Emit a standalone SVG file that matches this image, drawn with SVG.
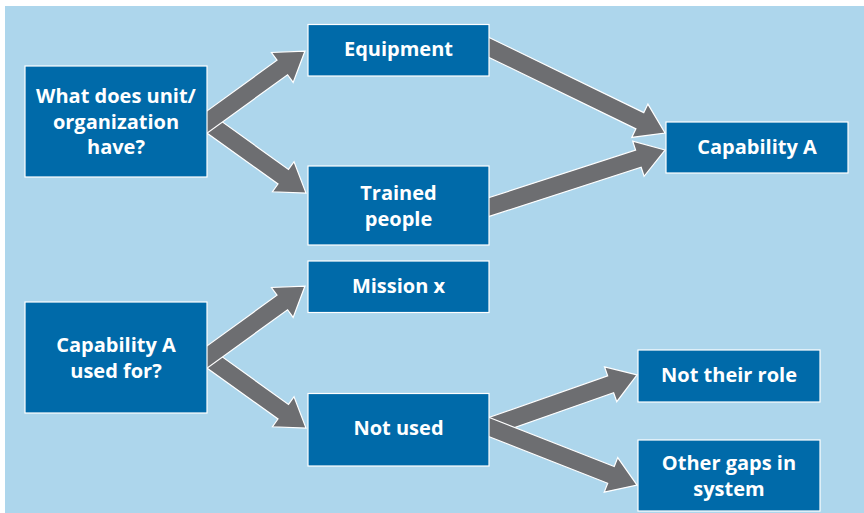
<svg xmlns="http://www.w3.org/2000/svg" width="864" height="513" viewBox="0 0 864 513">
<style>
.bg{fill:#add6ec}
.box{fill:#006aa9;stroke:#ffffff;stroke-width:1.2}
.arr{fill:#6d6e71;stroke:#ffffff;stroke-width:1.2;stroke-linejoin:miter}
.t{font-family:"Open Sans","Liberation Sans",sans-serif;font-weight:bold;font-size:20px;fill:#ffffff;text-anchor:middle}
</style>
<rect class="bg" x="5" y="6" width="859" height="507"/>
<g id="connectors">
<path class="arr" d="M0,-9 H103.8 V-18.5 L131.8,0 L103.8,18.5 V9 H0 Z" transform="translate(198.9,116.2) rotate(35.65)"/>
<path class="arr" d="M0,-9 H103 V-18.5 L131,0 L103,18.5 V9 H0 Z" transform="translate(198.9,127.9) rotate(-35.93)"/>
<path class="arr" d="M0,-9 H177.7 V-18.5 L205.7,0 L177.7,18.5 V9 H0 Z" transform="translate(480,43.1) rotate(25.91)"/>
<path class="arr" d="M0,-9 H167 V-18.5 L195,0 L167,18.5 V9 H0 Z" transform="translate(479.5,210.1) rotate(-17.94)"/>
<path class="arr" d="M0,-9 H103.8 V-18.5 L131.8,0 L103.8,18.5 V9 H0 Z" transform="translate(198.9,351.2) rotate(35.65)"/>
<path class="arr" d="M0,-9 H103 V-18.5 L131,0 L103,18.5 V9 H0 Z" transform="translate(198.9,362.9) rotate(-35.93)"/>
<path class="arr" d="M0,-9 H138.9 V-18.5 L166.9,0 L138.9,18.5 V9 H0 Z" transform="translate(479.6,430.3) rotate(-19.36)"/>
<path class="arr" d="M0,-9 H141 V-18.5 L169,0 L141,18.5 V9 H0 Z" transform="translate(479.7,423.4) rotate(21.4)"/>
</g>
<g id="have">
<rect class="box" x="25" y="66" width="182" height="111"/>
<text class="t" x="116" y="103">What does unit/</text>
<text class="t" x="116" y="128.5">organization</text>
<text class="t" x="116" y="154">have?</text>
</g>
<g id="equipment">
<rect class="box" x="308" y="24.5" width="181" height="51.5"/>
<text class="t" x="398.5" y="56">Equipment</text>
</g>
<g id="trained">
<rect class="box" x="308" y="166" width="181" height="79"/>
<text class="t" x="398.5" y="200">Trained</text>
<text class="t" x="398.5" y="225.5">people</text>
</g>
<g id="capA">
<rect class="box" x="666" y="122" width="182" height="51"/>
<text class="t" x="757" y="154">Capability A</text>
</g>
<g id="usedfor">
<rect class="box" x="25" y="302" width="182" height="111"/>
<text class="t" x="116" y="352">Capability A</text>
<text class="t" x="116" y="377.5">used for?</text>
</g>
<g id="mission">
<rect class="box" x="308" y="261" width="181" height="51.5"/>
<text class="t" x="398.5" y="293">Mission x</text>
</g>
<g id="notused">
<rect class="box" x="308" y="393.5" width="181" height="72.5"/>
<text class="t" x="398.5" y="434.5">Not used</text>
</g>
<g id="notrole">
<rect class="box" x="638" y="350" width="182" height="52"/>
<text class="t" x="729" y="382">Not their role</text>
</g>
<g id="othergaps">
<rect class="box" x="638" y="440" width="182" height="71"/>
<text class="t" x="729" y="470">Other gaps in</text>
<text class="t" x="729" y="495.5">system</text>
</g>
</svg>
